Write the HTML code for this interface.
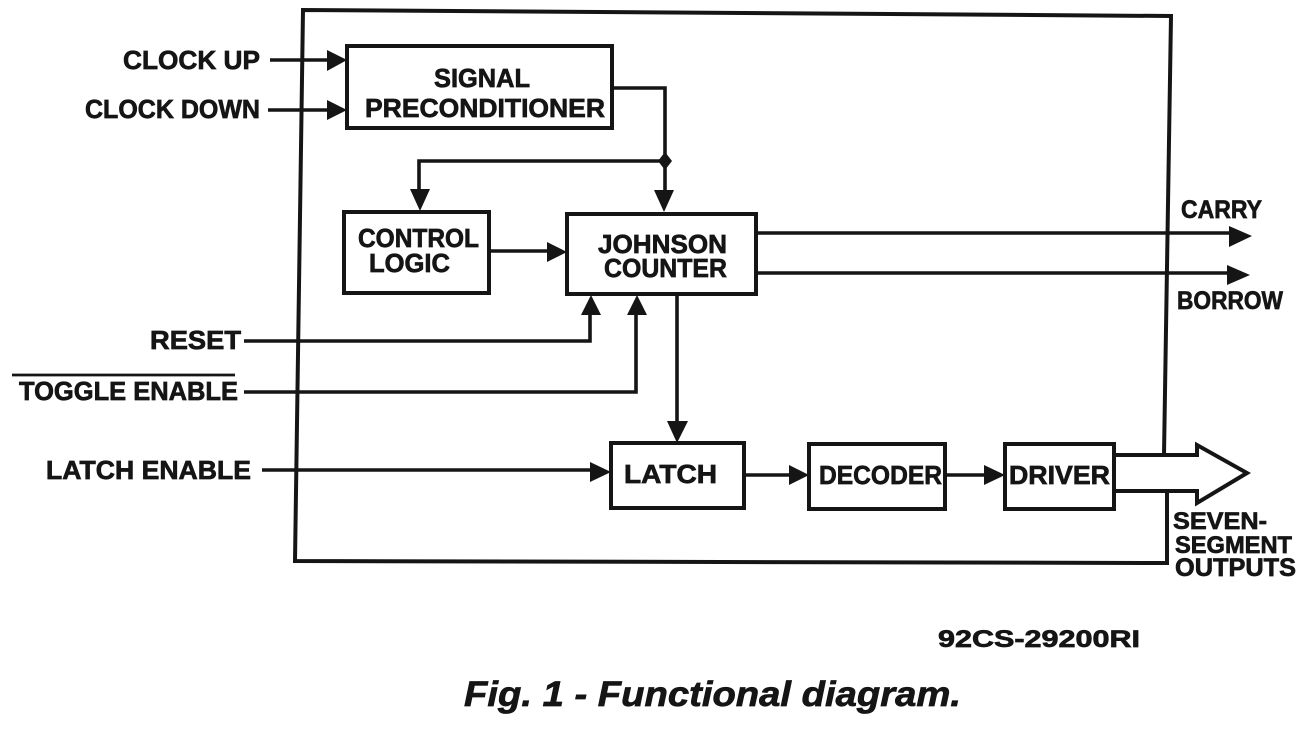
<!DOCTYPE html>
<html>
<head>
<meta charset="utf-8">
<style>
html,body{margin:0;padding:0;background:#fff;width:1301px;height:731px;overflow:hidden}
svg{display:block}
text{font-family:"Liberation Sans",sans-serif;font-weight:bold;fill:#151515;stroke:#151515;stroke-width:.7;letter-spacing:0}
.l{fill:none;stroke:#151515;stroke-width:4}
.t{fill:none;stroke:#151515;stroke-width:3.6}
.a{fill:#151515;stroke:none}
</style>
</head>
<body>
<svg width="1301" height="731" viewBox="0 0 1301 731" xmlns="http://www.w3.org/2000/svg">
<rect width="1301" height="731" fill="#fff"/>
<!-- outer box -->
<path class="l" d="M1164 455 L1171 16 L303 10 L295 561 L1167 563 L1167 491"/>
<!-- blocks -->
<rect class="l" x="347" y="46" width="265" height="82"/>
<rect class="l" x="344" y="212" width="145" height="81"/>
<rect class="l" x="567" y="214" width="189" height="80"/>
<rect class="l" x="611" y="443" width="133" height="65"/>
<rect class="l" x="809" y="444" width="136" height="65"/>
<rect class="l" x="1005" y="444" width="109" height="65"/>
<!-- connectors -->
<path class="t" d="M270 60 H335"/>
<polygon class="a" points="347,60 327,50 327,71"/>
<path class="t" d="M268 110 H335"/>
<polygon class="a" points="347,110 327,100 327,120"/>
<path class="t" d="M612 88 H665 V195"/>
<polygon class="a" points="664,212 654,190 674,190"/>
<path class="t" d="M665 161 H419 V192"/>
<polygon class="a" points="420,211 410,189 430,189"/>
<polygon class="a" points="665,152 672,161 665,170 658,161"/>
<path class="t" d="M490 251 H555"/>
<polygon class="a" points="567,252 547,242 547,262"/>
<path class="t" d="M756 233 H1235"/>
<polygon class="a" points="1252,236 1229,226 1229,247"/>
<path class="t" d="M756 273 H1235"/>
<polygon class="a" points="1250,275 1227,265 1227,285"/>
<path class="t" d="M244 341 H590 V312"/>
<polygon class="a" points="591,295 581,315 601,315"/>
<path class="t" d="M244 392 H636 V312"/>
<polygon class="a" points="637,295 627,315 647,315"/>
<path class="t" d="M677 295 V425"/>
<polygon class="a" points="677,443 667,421 688,421"/>
<path class="t" d="M262 470 H595"/>
<polygon class="a" points="611,472 590,462 590,482"/>
<path class="t" d="M744 475 H795"/>
<polygon class="a" points="809,475 789,465 789,485"/>
<path class="t" d="M945 475 H990"/>
<polygon class="a" points="1005,475 984,465 984,485"/>
<path class="t" d="M12 375 H235" style="stroke-width:2.8"/>
<!-- big output arrow -->
<path class="l" d="M1114 455 H1197 V445 L1247 473 L1197 503 V491 H1114"/>
<!-- labels -->
<text x="123" y="69" font-size="26" textLength="137" lengthAdjust="spacingAndGlyphs">CLOCK UP</text>
<text x="85" y="118" font-size="26" textLength="175" lengthAdjust="spacingAndGlyphs">CLOCK DOWN</text>
<text x="434" y="87" font-size="26" textLength="96" lengthAdjust="spacingAndGlyphs">SIGNAL</text>
<text x="365" y="117" font-size="26" textLength="240" lengthAdjust="spacingAndGlyphs">PRECONDITIONER</text>
<text x="358" y="247" font-size="26" textLength="121" lengthAdjust="spacingAndGlyphs">CONTROL</text>
<text x="369" y="272" font-size="26" textLength="81" lengthAdjust="spacingAndGlyphs">LOGIC</text>
<text x="598" y="253" font-size="26" textLength="129" lengthAdjust="spacingAndGlyphs">JOHNSON</text>
<text x="604" y="277" font-size="26" textLength="123" lengthAdjust="spacingAndGlyphs">COUNTER</text>
<text x="150" y="349" font-size="26" textLength="91" lengthAdjust="spacingAndGlyphs">RESET</text>
<text x="19" y="400" font-size="26" textLength="219" lengthAdjust="spacingAndGlyphs">TOGGLE ENABLE</text>
<text x="46" y="479" font-size="26" textLength="205" lengthAdjust="spacingAndGlyphs">LATCH ENABLE</text>
<text x="624" y="483" font-size="26" textLength="93" lengthAdjust="spacingAndGlyphs">LATCH</text>
<text x="819" y="484" font-size="26" textLength="123" lengthAdjust="spacingAndGlyphs">DECODER</text>
<text x="1009" y="484" font-size="26" textLength="101" lengthAdjust="spacingAndGlyphs">DRIVER</text>
<text x="1181" y="218" font-size="25" textLength="81" lengthAdjust="spacingAndGlyphs">CARRY</text>
<text x="1177" y="309" font-size="25" textLength="106" lengthAdjust="spacingAndGlyphs">BORROW</text>
<text x="1173" y="529" font-size="24" textLength="94" lengthAdjust="spacingAndGlyphs">SEVEN-</text>
<text x="1175" y="553" font-size="24" textLength="117" lengthAdjust="spacingAndGlyphs">SEGMENT</text>
<text x="1175" y="576" font-size="25" textLength="121" lengthAdjust="spacingAndGlyphs">OUTPUTS</text>
<text x="938" y="647" font-size="24" textLength="202" lengthAdjust="spacingAndGlyphs">92CS-29200RI</text>
<text x="464" y="706" font-size="35" font-style="italic" textLength="497" lengthAdjust="spacingAndGlyphs">Fig. 1 - Functional diagram.</text>
</svg>
</body>
</html>
